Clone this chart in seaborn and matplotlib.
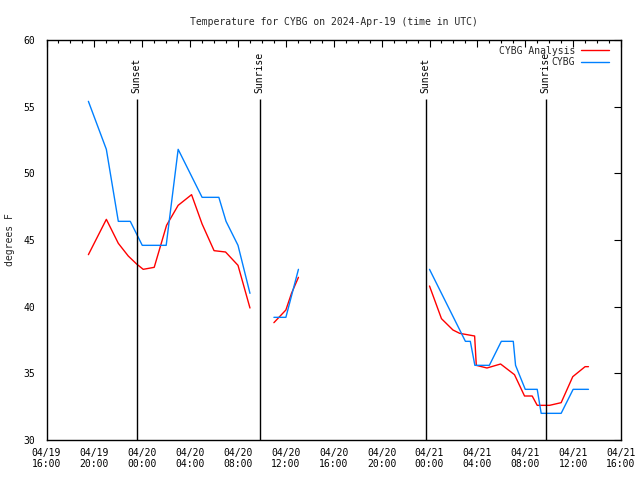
import numpy as np
import pandas as pd
import matplotlib
matplotlib.use("Agg")
import matplotlib.pyplot as plt
import matplotlib.dates as mdates
from matplotlib.lines import Line2D
import seaborn as sns

# ---------------- data (hours after 2024-04-19 16:00 UTC) ----------------
title = "Temperature for CYBG on 2024-Apr-19 (time in UTC)"
y_label = "degrees F"
series_names = ["CYBG Analysis", "CYBG"]
series_colors = ["#ff0000", "#0080ff"]

analysis_seg1_h = [3.5, 5.0, 6.0, 6.83, 7.53, 8.08, 9.0, 10.03, 11.0, 12.12, 13.0, 14.0, 14.96, 16.0, 17.0]
analysis_seg1_t = [43.9, 46.55, 44.75, 43.8, 43.2, 42.8, 42.95, 46.1, 47.6, 48.4, 46.2, 44.2, 44.1, 43.1, 39.9]
analysis_seg2_h = [19.0, 20.0, 20.47, 21.05]
analysis_seg2_t = [38.8, 39.75, 41.0, 42.2]
analysis_seg3_h = [32.0, 33.0, 33.96, 34.52, 35.77, 35.91, 36.8, 37.94, 39.1, 39.94, 40.58, 41.0, 42.03, 43.0, 43.97, 45.0, 45.28]
analysis_seg3_t = [41.55, 39.1, 38.25, 38.0, 37.8, 35.6, 35.4, 35.7, 34.9, 33.3, 33.3, 32.6, 32.6, 32.8, 34.75, 35.5, 35.5]

obs_seg1_h = [3.5, 5.0, 6.0, 7.0, 8.0, 10.0, 11.0, 12.0, 13.0, 14.4, 15.0, 16.0, 17.0]
obs_seg1_t = [55.4, 51.8, 46.4, 46.4, 44.6, 44.6, 51.8, 50.0, 48.2, 48.2, 46.4, 44.6, 41.0]
obs_seg2_h = [19.0, 20.0, 21.05]
obs_seg2_t = [39.2, 39.2, 42.8]
obs_seg3_h = [32.0, 35.0, 35.41, 35.79, 37.0, 38.0, 39.0, 39.19, 40.0, 41.0, 41.33, 43.0, 44.0, 45.28]
obs_seg3_t = [42.8, 37.4, 37.4, 35.6, 35.6, 37.4, 37.4, 35.6, 33.8, 33.8, 32.0, 32.0, 33.8, 33.8]

sun_labels = ["Sunset", "Sunrise", "Sunset", "Sunrise"]
sun_hours = [7.55, 17.82, 31.68, 41.7]

y_min, y_max = 30, 60
y_ticks = [30, 35, 40, 45, 50, 55, 60]

start = pd.Timestamp("2024-04-19 16:00")
end = start + pd.Timedelta(hours=48)

# ---------------- build table ----------------
rows = []
segments = [
    (series_names[0], "a1", analysis_seg1_h, analysis_seg1_t),
    (series_names[0], "a2", analysis_seg2_h, analysis_seg2_t),
    (series_names[0], "a3", analysis_seg3_h, analysis_seg3_t),
    (series_names[1], "o1", obs_seg1_h, obs_seg1_t),
    (series_names[1], "o2", obs_seg2_h, obs_seg2_t),
    (series_names[1], "o3", obs_seg3_h, obs_seg3_t),
]
for name, seg, hs, ts in segments:
    for h, t in zip(hs, ts):
        rows.append({"time": start + pd.Timedelta(hours=h), "temp": t,
                     "series": name, "seg": seg})
df = pd.DataFrame(rows)

# ---------------- plot ----------------
sns.set_style("white")
plt.rcParams["font.family"] = ["DejaVu Sans Mono"]
plt.rcParams["font.size"] = 7

fig = plt.figure(figsize=(6.4, 4.8), dpi=100)
ax = fig.add_axes([46.5 / 640, 1 - 440 / 480, 574.5 / 640, 400 / 480])

palette = dict(zip(series_names, series_colors))
sns.lineplot(data=df, x="time", y="temp", hue="series", units="seg",
             estimator=None, palette=palette, hue_order=series_names,
             linewidth=1.0, legend=False, ax=ax)

# sunrise / sunset markers
for lab, h in zip(sun_labels, sun_hours):
    tx = start + pd.Timedelta(hours=h)
    ax.vlines(tx, y_min, 55.6, color="black", linewidth=1.0)
    ax.text(tx, 56.05, lab, rotation=90, ha="center", va="bottom",
            fontsize=7, color="black")

ax.set_xlim(start, end)
ax.set_ylim(y_min, y_max)
ax.set_yticks(y_ticks)
ax.xaxis.set_major_locator(mdates.HourLocator(byhour=range(0, 24, 4)))
ax.xaxis.set_minor_locator(mdates.HourLocator())
ax.xaxis.set_major_formatter(mdates.DateFormatter("%m/%d\n%H:%M"))

ax.tick_params(axis="both", which="both", direction="in", top=True, right=True,
               colors="black", labelsize=7)
ax.tick_params(axis="both", which="major", length=5, width=0.8)
ax.tick_params(axis="both", which="minor", length=2.5, width=0.8)
ax.tick_params(axis="x", which="major", pad=5.5)
ax.tick_params(axis="y", which="major", pad=8)
for lbl in ax.get_xticklabels():
    lbl.set_multialignment("center")

for sp in ax.spines.values():
    sp.set_color("black")
    sp.set_linewidth(1.0)
    sp.set_visible(True)

ax.set_xlabel("")
ax.set_ylabel(y_label, fontsize=7)
ax.yaxis.set_label_coords(-0.054, 0.5)
ax.set_title(title, fontsize=7, pad=11)

handles = [Line2D([0], [0], color=c, linewidth=1.0) for c in series_colors]
leg = ax.legend(handles, series_names, loc="upper right", markerfirst=False,
                frameon=False, fontsize=7, handlelength=2.9, handletextpad=0.6,
                labelspacing=0.15, borderpad=0, borderaxespad=0,
                bbox_to_anchor=(609 / 640, 1 - 45.5 / 480),
                bbox_transform=fig.transFigure)

fig.savefig("out.png", dpi=100, facecolor="white")
